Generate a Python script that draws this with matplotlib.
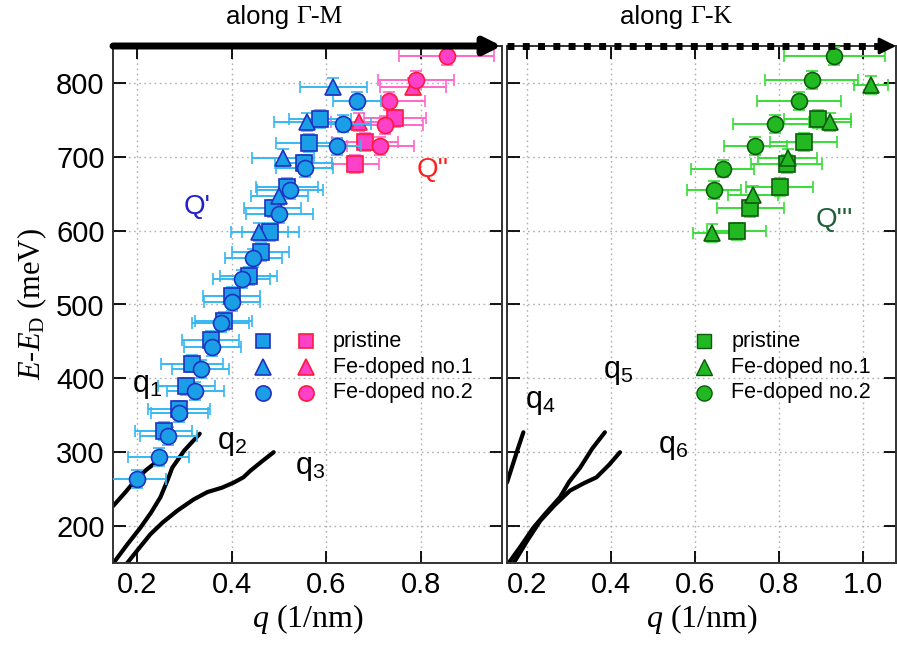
import matplotlib
matplotlib.use("Agg")
import matplotlib.pyplot as plt
import numpy as np

plt.rcParams['font.family'] = ['Liberation Sans', 'DejaVu Sans']
plt.rcParams['mathtext.fontset'] = 'custom'
plt.rcParams['mathtext.rm'] = 'Liberation Serif'
plt.rcParams['mathtext.it'] = 'Liberation Serif:italic'
plt.rcParams['mathtext.sf'] = 'Liberation Sans'

# ---------------- data: along Gamma-M (left panel) ----------------
M_pri_q = [0.257, 0.289, 0.305, 0.317, 0.356, 0.384, 0.400, 0.436, 0.462, 0.482, 0.487, 0.517, 0.552, 0.563, 0.587]
M_pri_E = [329, 358, 389, 420, 452, 478, 512, 539, 571, 598, 630, 659, 691, 719, 751]
M_pri_dq = [0.06, 0.065, 0.06, 0.065, 0.06, 0.06, 0.06, 0.06, 0.06, 0.06, 0.06, 0.065, 0.06, 0.07, 0.065]

M_fe1_q = [0.459, 0.501, 0.508, 0.559, 0.615]
M_fe1_E = [598, 647, 698, 747, 795]
M_fe1_dq = [0.06, 0.06, 0.065, 0.07, 0.07]

M_fe2_q = [0.201, 0.246, 0.267, 0.290, 0.324, 0.335, 0.359, 0.377, 0.401, 0.422, 0.446, 0.501, 0.523, 0.554, 0.623, 0.635, 0.665]
M_fe2_E = [264, 294, 322, 353, 383, 413, 442, 475, 503, 535, 563, 623, 655, 685, 714, 745, 776]
M_fe2_dq = [0.06, 0.065, 0.06, 0.06, 0.06, 0.06, 0.06, 0.06, 0.06, 0.06, 0.06, 0.07, 0.07, 0.06, 0.05, 0.06, 0.05]

Mr_pri_q = [0.661, 0.681, 0.745]
Mr_pri_E = [690, 720, 752]
Mr_pri_dq = [0.05, 0.07, 0.065]

Mr_fe1_q = [0.670, 0.783]
Mr_fe1_E = [747, 795]
Mr_fe1_dq = [0.06, 0.07]

Mr_fe2_q = [0.714, 0.723, 0.733, 0.789, 0.854]
Mr_fe2_E = [715, 743, 776, 804, 836]
Mr_fe2_dq = [0.07, 0.08, 0.075, 0.08, 0.10]

# ---------------- data: along Gamma-K (right panel) ----------------
K_pri_q = [0.699, 0.731, 0.801, 0.818, 0.858, 0.892]
K_pri_E = [599, 630, 659, 690, 720, 751]
K_pri_dq = [0.07, 0.08, 0.08, 0.085, 0.08, 0.08]

K_fe1_q = [0.640, 0.737, 0.820, 0.922, 1.018]
K_fe1_E = [597, 648, 698, 747, 797]
K_fe1_dq = [0.045, 0.06, 0.07, 0.05, 0.04]

K_fe2_q = [0.645, 0.666, 0.743, 0.790, 0.846, 0.877, 0.931]
K_fe2_E = [655, 684, 715, 744, 776, 804, 836]
K_fe2_dq = [0.065, 0.075, 0.075, 0.10, 0.10, 0.11, 0.12]

E_err = 12

# ---------------- theory curves ----------------
q1_q = [0.150, 0.175, 0.200, 0.220, 0.240]
q1_E = [227, 245, 264, 276, 286]
q2_q = [0.151, 0.180, 0.208, 0.230, 0.250, 0.265, 0.275, 0.300, 0.333]
q2_E = [150, 175, 198, 218, 239, 262, 279, 302, 325]
q3_q = [0.180, 0.205, 0.229, 0.255, 0.286, 0.320, 0.349, 0.380, 0.405, 0.425, 0.440, 0.465, 0.489]
q3_E = [150, 170, 189, 205, 221, 236, 246, 252, 259, 266, 275, 288, 300]
q4_q = [0.152, 0.165, 0.178, 0.191]
q4_E = [259, 282, 305, 327]
q5_q = [0.156, 0.185, 0.215, 0.245, 0.278, 0.300, 0.326, 0.355, 0.385]
q5_E = [150, 173, 198, 218, 239, 260, 279, 305, 327]
q6_q = [0.168, 0.200, 0.231, 0.265, 0.302, 0.335, 0.365, 0.395, 0.421]
q6_E = [150, 180, 207, 228, 248, 258, 266, 283, 300]

yticks = [200, 300, 400, 500, 600, 700, 800]
xticks_M = [0.2, 0.4, 0.6, 0.8]
xticks_K = [0.2, 0.4, 0.6, 0.8, 1.0]
legend_labels = ['pristine', 'Fe-doped no.1', 'Fe-doped no.2']

# ---------------- styles ----------------
blue_fc, blue_ec, blue_err = '#1a9fe6', '#2030c0', '#35b8f2'
pink_fc, pink_ec, pink_err = '#ff40c8', '#ff1a3a', '#ff66cc'
green_fc, green_ec, green_err = '#22b822', '#0d5a0d', '#38dd38'
ms = {'s': 11, '^': 12, 'o': 11.5}

fig = plt.figure(figsize=(8.97, 6.45), dpi=100)
axL = fig.add_axes([113/897, 1-563/645, 388.7/897, 517/645])
axR = fig.add_axes([507/897, 1-563/645, 389/897, 517/645])


def series(ax, q, E, dq, marker, fc, ec, ecol, z):
    ax.errorbar(q, E, xerr=dq, yerr=E_err, fmt=marker, ms=ms[marker], mfc=fc, mec=ec,
                mew=1.2, ecolor=ecol, elinewidth=1.4, capsize=4, capthick=1.4, zorder=z)


for ax in (axL, axR):
    ax.set_ylim(150, 850)
    ax.set_yticks(yticks)
    ax.grid(True, color='#b0b0b0', linestyle=(0, (1.2, 2.5)), linewidth=1.0)
    ax.tick_params(direction='in', length=9, width=1.3, top=True, right=True,
                   labelsize=21, pad=6)
    for s in ax.spines.values():
        s.set_linewidth(1.4)
        s.set_color('#333333')
    ax.set_axisbelow(True)

axL.set_xlim(0.15, 0.97)
axL.set_xticks(xticks_M)
axL.set_xticklabels(['0.2', '0.4', '0.6', '0.8'])
axR.set_xlim(0.152, 1.078)
axR.set_xticks(xticks_K)
axR.set_xticklabels(['0.2', '0.4', '0.6', '0.8', '1.0'])
axR.tick_params(labelleft=False)

# curves
for ax, cq, cE in [(axL, q1_q, q1_E), (axL, q2_q, q2_E), (axL, q3_q, q3_E),
                   (axR, q4_q, q4_E), (axR, q5_q, q5_E), (axR, q6_q, q6_E)]:
    ax.plot(cq, cE, color='black', lw=3.0, solid_capstyle='round', zorder=2)

# left data
series(axL, Mr_pri_q, Mr_pri_E, Mr_pri_dq, 's', pink_fc, pink_ec, pink_err, 3)
series(axL, Mr_fe1_q, Mr_fe1_E, Mr_fe1_dq, '^', pink_fc, pink_ec, pink_err, 3)
series(axL, Mr_fe2_q, Mr_fe2_E, Mr_fe2_dq, 'o', pink_fc, pink_ec, pink_err, 3)
series(axL, M_pri_q, M_pri_E, M_pri_dq, 's', blue_fc, blue_ec, blue_err, 4)
series(axL, M_fe1_q, M_fe1_E, M_fe1_dq, '^', blue_fc, blue_ec, blue_err, 4)
series(axL, M_fe2_q, M_fe2_E, M_fe2_dq, 'o', blue_fc, blue_ec, blue_err, 4)

# right data
series(axR, K_pri_q, K_pri_E, K_pri_dq, 's', green_fc, green_ec, green_err, 3)
series(axR, K_fe1_q, K_fe1_E, K_fe1_dq, '^', green_fc, green_ec, green_err, 3)
series(axR, K_fe2_q, K_fe2_E, K_fe2_dq, 'o', green_fc, green_ec, green_err, 3)

# legends (manual)
rows_y = [0.429, 0.379, 0.329]
marks = ['s', '^', 'o']
for y, m, lab in zip(rows_y, marks, legend_labels):
    axL.plot([0.386], [y], marker=m, ms=ms[m] * 0.95, mfc=blue_fc, mec=blue_ec, mew=1.2,
             transform=axL.transAxes, ls='none', zorder=6)
    axL.plot([0.4965], [y], marker=m, ms=ms[m] * 0.95, mfc=pink_fc, mec=pink_ec, mew=1.2,
             transform=axL.transAxes, ls='none', zorder=6)
    axL.text(0.566, y, lab, transform=axL.transAxes, fontsize=15.5, va='center', ha='left')
    axR.plot([0.506], [y], marker=m, ms=ms[m] * 0.95, mfc=green_fc, mec=green_ec, mew=1.0,
             transform=axR.transAxes, ls='none', zorder=6)
    axR.text(0.576, y, lab, transform=axR.transAxes, fontsize=15.5, va='center', ha='left')

# Q labels
axL.text(0.328, 632, "Q'", color='#2020d0', fontsize=20, ha='center', va='center')
axL.text(0.825, 682, "Q''", color='#ff2020', fontsize=20, ha='center', va='center')
axR.text(0.931, 614, "Q'''", color='#1f5f3a', fontsize=20, ha='center', va='center')

# q_n labels
for ax, x, y, n in [(axL, 0.222, 390, 1), (axL, 0.401, 313, 2), (axL, 0.566, 279, 3),
                    (axR, 0.231, 368, 4), (axR, 0.416, 408, 5), (axR, 0.547, 307, 6)]:
    ax.text(x, y, r"q$_\mathsf{%d}$" % n, fontsize=22, ha='center', va='center')

# axis labels
axL.set_xlabel(r"$q$ (1/nm)", family='Liberation Serif', fontsize=23, labelpad=2)
axR.set_xlabel(r"$q$ (1/nm)", family='Liberation Serif', fontsize=23, labelpad=2)
axL.set_ylabel(r"$E$-$E_\mathrm{D}$ (meV)", family='Liberation Serif', fontsize=22, labelpad=5)

# top arrows
axL.annotate('', xy=(1.0, 1.0), xytext=(0.0, 1.0), xycoords='axes fraction',
             textcoords='axes fraction',
             arrowprops=dict(arrowstyle='-|>,head_length=1.0,head_width=0.5', lw=5,
                             color='black', shrinkA=0, shrinkB=0), annotation_clip=False, zorder=10)
axR.plot([0.0, 0.97], [1.0, 1.0], transform=axR.transAxes, color='black', lw=5,
         ls=(0, (1, 1.2)), clip_on=False, zorder=10, solid_capstyle='butt', dash_capstyle='butt')
axR.annotate('', xy=(1.0, 1.0), xytext=(0.95, 1.0), xycoords='axes fraction',
             textcoords='axes fraction',
             arrowprops=dict(arrowstyle='-|>,head_length=1.0,head_width=0.5', lw=2,
                             color='black', shrinkA=0, shrinkB=0), annotation_clip=False, zorder=10)

# titles
fig.text(296/897, 1-17/645, 'along ', fontsize=18.5, ha='right', va='center')
fig.text(296/897, 1-17/645, 'Γ-M', family='Liberation Serif', fontsize=18.5, ha='left', va='center')
fig.text(690/897, 1-17/645, 'along ', fontsize=18.5, ha='right', va='center')
fig.text(690/897, 1-17/645, 'Γ-K', family='Liberation Serif', fontsize=18.5, ha='left', va='center')

fig.savefig('out.png', dpi=100)
